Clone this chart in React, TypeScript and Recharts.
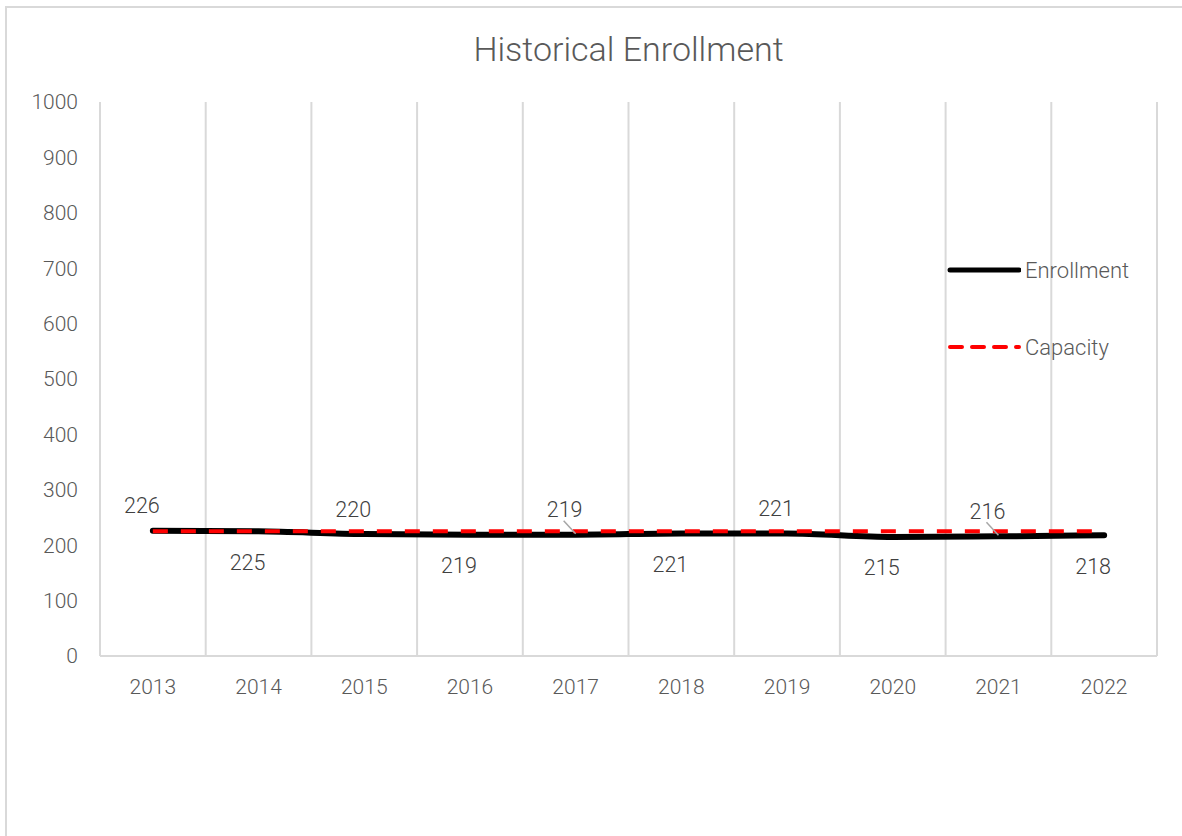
import React from 'react';
import {
  LineChart,
  Line,
  XAxis,
  YAxis,
  CartesianGrid,
  Legend,
  LabelList,
} from 'recharts';

const years = ['2013', '2014', '2015', '2016', '2017', '2018', '2019', '2020', '2021', '2022'];
const enrollment = [226, 225, 220, 219, 219, 221, 221, 215, 216, 218];
const capacity = [225, 225, 225, 225, 225, 225, 225, 225, 225, 225];
const yTicks = [0, 100, 200, 300, 400, 500, 600, 700, 800, 900, 1000];
// labels that Excel pushed aside and joined with a leader line
const leaderIdx = [4, 8];

const data = years.map((year, i) => ({
  year,
  Enrollment: enrollment[i],
  Capacity: capacity[i],
}));

const FONT = 'Roboto, "Open Sans", sans-serif';
const TEXT = '#595959';
const GRID = '#d9d9d9';

const W = 1176;
const H = 836;
const PLOT_W = 1057;
const HALF_CAT = PLOT_W / years.length / 2;

function PointLabel(props: any) {
  const { x, y, value, index } = props;
  const above = index % 2 === 0;
  const ty = above ? y - 25 : y + 31;
  const leader = leaderIdx.includes(index);
  return (
    <g>
      {leader && (
        <line x1={x - 12} y1={y - 14} x2={x} y2={y - 1} stroke="#a6a6a6" strokeWidth={1.5} />
      )}
      <text
        x={x - 11}
        y={ty}
        textAnchor="middle"
        dominantBaseline="central"
        fontFamily={FONT}
        fontWeight={300}
        fontSize={21.5}
        fill="#404040"
      >
        {value}
      </text>
    </g>
  );
}

function LegendBox() {
  const rows = [
    { name: 'Enrollment', color: '#000000', width: 5, dash: undefined },
    { name: 'Capacity', color: '#ff0000', width: 4, dash: '12 10' },
  ];
  return (
    <div>
      {rows.map((r, i) => (
        <div
          key={r.name}
          style={{
            display: 'flex',
            alignItems: 'center',
            height: 30,
            marginBottom: i === 0 ? 47 : 0,
          }}
        >
          <svg width={78} height={30}>
            <line
              x1={7}
              y1={15}
              x2={76}
              y2={15}
              stroke={r.color}
              strokeWidth={r.width}
              strokeDasharray={r.dash}
              strokeLinecap="round"
            />
          </svg>
          <span style={{ fontFamily: FONT, fontWeight: 300, fontSize: 22, color: TEXT, marginLeft: 4 }}>
            {r.name}
          </span>
        </div>
      ))}
    </div>
  );
}

export default function App() {
  return (
    <div
      style={{
        position: 'absolute',
        left: 5,
        top: 6,
        width: 1182,
        height: 842,
        border: `2px solid ${GRID}`,
        boxSizing: 'border-box',
        background: '#fff',
      }}
    >
      <div
        style={{
          position: 'absolute',
          left: 93,
          width: PLOT_W,
          top: 21,
          textAlign: 'center',
          fontFamily: FONT,
          fontWeight: 300,
          fontSize: 34,
          color: TEXT,
          zIndex: 2,
        }}
      >
        Historical Enrollment
      </div>
      <LineChart
        width={W}
        height={H}
        data={data}
        margin={{ top: 94, right: 26, left: 13, bottom: 158 }}
      >
        <CartesianGrid
          horizontal={false}
          stroke={GRID}
          strokeWidth={2}
          verticalCoordinatesGenerator={({ offset }: any) =>
            years.map((_, i) => offset.left + (i * offset.width) / years.length).concat(
              offset.left + offset.width
            )
          }
        />
        <XAxis
          dataKey="year"
          axisLine={{ stroke: GRID, strokeWidth: 2 }}
          tickLine={false}
          tickSize={0}
          tickMargin={23}
          height={30}
          interval={0}
          padding={{ left: HALF_CAT, right: HALF_CAT }}
          tick={{ fontFamily: FONT, fontWeight: 300, fontSize: 21, fill: TEXT }}
        />
        <YAxis
          domain={[0, 1000]}
          ticks={yTicks}
          width={80}
          axisLine={false}
          tickLine={false}
          tickSize={0}
          tickMargin={22}
          interval={0}
          tick={{ fontFamily: FONT, fontWeight: 300, fontSize: 21, fill: TEXT }}
        />
        <Legend
          layout="horizontal"
          verticalAlign="middle"
          align="center"
          wrapperStyle={{ left: 936, top: 247, width: 240 }}
          content={() => <LegendBox />}
        />
        <Line
          type="monotone"
          dataKey="Enrollment"
          stroke="#000000"
          strokeWidth={6}
          strokeLinecap="round"
          dot={false}
          activeDot={false}
          isAnimationActive={false}
        >
          <LabelList dataKey="Enrollment" content={<PointLabel />} />
        </Line>
        <Line
          type="linear"
          dataKey="Capacity"
          stroke="#ff0000"
          strokeWidth={4}
          strokeDasharray="15 13"
          dot={false}
          activeDot={false}
          isAnimationActive={false}
        />
      </LineChart>
    </div>
  );
}
